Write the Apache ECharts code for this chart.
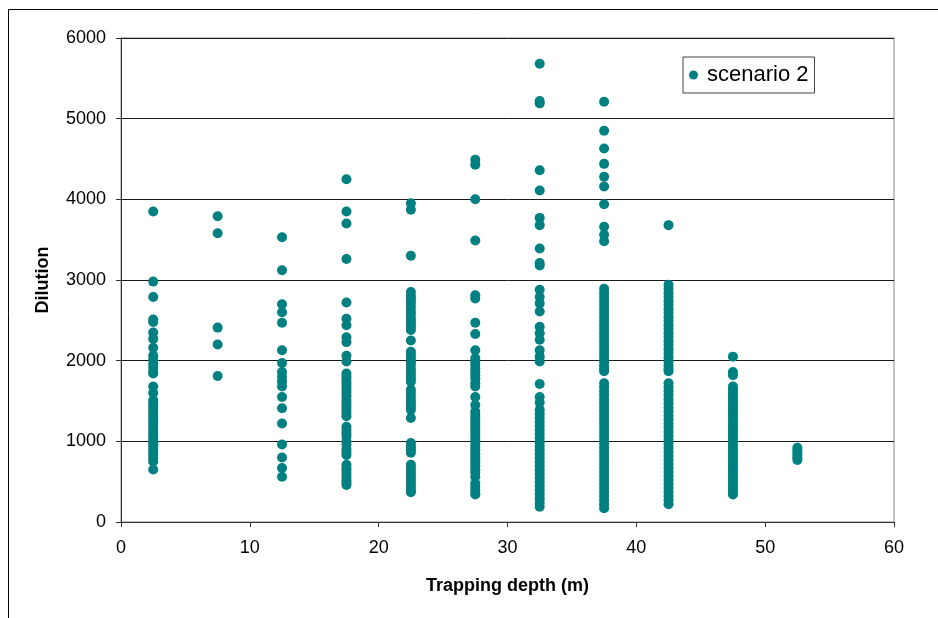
<!DOCTYPE html>
<html>
<head>
<meta charset="utf-8">
<script src="https://cdn.jsdelivr.net/npm/echarts@6/dist/echarts.min.js"></script>
<style>
  html, body { margin: 0; padding: 0; background: #fff; }
  #chart { width: 938px; height: 618px; }
</style>
</head>
<body>
<div id="chart"></div>
<script>
// Trapping depth bins (m)
const depths = [2.5, 7.5, 12.5, 17.5, 22.5, 27.5, 32.5, 37.5, 42.5, 47.5, 52.5];

// Dilution values observed at each trapping depth
const dil2_5 = [3850, 2980, 2790, 2510, 2480, 2350, 2270, 2160, 2060, 2010, 1960, 1910, 1860, 1840, 1680, 1600,
  1510, 1470, 1430, 1390, 1350, 1310, 1270, 1230, 1190, 1150, 1110, 1070, 1030, 990, 950, 910, 870, 830, 790, 750, 650];
const dil7_5 = [3790, 3580, 2410, 2200, 1810];
const dil12_5 = [3530, 3120, 2700, 2600, 2470, 2130, 1970, 1860, 1800, 1740, 1680, 1550, 1410, 1220, 960, 800, 670, 560];
const dil17_5 = [4250, 3850, 3700, 3260, 2720, 2520, 2440, 2290, 2230, 2060, 1990, 1840, 1800, 1760, 1720, 1680,
  1640, 1600, 1560, 1510, 1470, 1430, 1390, 1350, 1310, 1180, 1140, 1100, 1060, 1000, 960, 900, 860, 830,
  710, 670, 640, 600, 560, 520, 490, 460];
const dil22_5 = [3950, 3870, 3300, 2850, 2800, 2760, 2720, 2670, 2620, 2580, 2530, 2490, 2460, 2420, 2380, 2250,
  2110, 2070, 2030, 1990, 1950, 1900, 1860, 1820, 1780, 1740, 1640, 1600, 1550, 1510, 1470, 1430, 1390, 1290,
  980, 940, 900, 860, 710, 670, 630, 590, 550, 510, 470, 430, 390, 370];
const dil27_5 = [4490, 4430, 4000, 3490, 2810, 2770, 2470, 2330, 2130, 2030, 1990, 1950, 1900, 1860, 1820, 1780,
  1720, 1680, 1550, 1450, 1370, 1330, 1290, 1250, 1210, 1170, 1130, 1090, 1050, 1010, 970, 930, 890, 850, 810,
  770, 730, 690, 650, 610, 560, 480, 440, 400, 360, 340];
const dil32_5 = [5680, 5220, 5190, 4360, 4110, 3770, 3680, 3390, 3210, 3180, 2880, 2790, 2710, 2610, 2420, 2340,
  2260, 2130, 2050, 1990, 1710, 1550, 1480, 1390, 1340, 1290, 1240, 1190, 1140, 1090, 1040, 990, 940, 890, 840,
  790, 740, 690, 640, 590, 540, 490, 440, 390, 340, 290, 240, 190];
const dil37_5 = [5210, 4850, 4630, 4440, 4280, 4160, 3940, 3660, 3560, 3480, 2890, 2840, 2790, 2740, 2690, 2640,
  2590, 2540, 2490, 2440, 2390, 2340, 2290, 2240, 2190, 2140, 2090, 2040, 1990, 1940, 1900, 1870, 1720, 1670,
  1620, 1570, 1520, 1470, 1420, 1370, 1320, 1270, 1220, 1170, 1120, 1070, 1020, 970, 920, 870, 820, 770, 720,
  670, 620, 570, 520, 470, 420, 370, 320, 270, 220, 170];
const dil42_5 = [3680, 2940, 2890, 2840, 2790, 2740, 2690, 2640, 2590, 2540, 2490, 2440, 2390, 2340, 2290, 2240,
  2190, 2140, 2090, 2040, 1990, 1940, 1900, 1870, 1720, 1670, 1620, 1570, 1520, 1470, 1420, 1370, 1320, 1270,
  1220, 1170, 1120, 1070, 1020, 970, 920, 870, 820, 770, 720, 670, 620, 570, 520, 470, 420, 370, 320, 270, 220];
const dil47_5 = [2050, 1860, 1820, 1680, 1640, 1600, 1560, 1520, 1480, 1440, 1400, 1360, 1320, 1280, 1240, 1200,
  1160, 1120, 1080, 1040, 1000, 960, 920, 880, 840, 800, 760, 720, 680, 640, 600, 560, 520, 480, 440, 400, 360, 340];
const dil52_5 = [920, 890, 860, 830, 800, 770];

const dilutionByDepth = [dil2_5, dil7_5, dil12_5, dil17_5, dil22_5, dil27_5, dil32_5, dil37_5, dil42_5, dil47_5, dil52_5];

// Axis ticks
const xTicks = [0, 10, 20, 30, 40, 50, 60];
const yTicks = [0, 1000, 2000, 3000, 4000, 5000, 6000];

const points = [];
depths.forEach((d, i) => dilutionByDepth[i].forEach(v => points.push([d, v])));

const font = 'Liberation Sans, Arial, sans-serif';
const chart = echarts.init(document.getElementById('chart'));
chart.setOption({
  animation: false,
  backgroundColor: '#fff',
  textStyle: { fontFamily: font },
  grid: {
    left: 121, right: 44, top: 38, bottom: 96,
    show: true, borderColor: '#888', borderWidth: 1, backgroundColor: 'transparent'
  },
  legend: {
    left: 683, top: 57,
    padding: [7, 6, 7, 6],
    borderColor: '#444', borderWidth: 1,
    icon: 'circle', itemWidth: 17, itemHeight: 9, itemGap: 4,
    textStyle: { fontSize: 22, color: '#000', fontFamily: font },
    data: ['scenario 2']
  },
  xAxis: {
    type: 'value',
    min: xTicks[0], max: xTicks[xTicks.length - 1], interval: 10,
    name: 'Trapping depth (m)', nameLocation: 'middle', nameGap: 55,
    nameTextStyle: { fontSize: 18, fontWeight: 'bold', color: '#000', fontFamily: font },
    axisLine: { lineStyle: { color: '#333', width: 1 } },
    axisTick: { show: true, length: 5, lineStyle: { color: '#333' } },
    axisLabel: { fontSize: 18, color: '#000', margin: 17, fontFamily: font },
    splitLine: { show: false }
  },
  yAxis: {
    type: 'value',
    min: yTicks[0], max: yTicks[yTicks.length - 1], interval: 1000,
    name: 'Dilution', nameLocation: 'middle', nameGap: 69,
    nameTextStyle: { fontSize: 18, fontWeight: 'bold', color: '#000', fontFamily: font },
    axisLine: { show: true, lineStyle: { color: '#333', width: 1 } },
    axisTick: { show: true, length: 5, lineStyle: { color: '#333' } },
    axisLabel: { fontSize: 18, color: '#000', margin: 15, fontFamily: font, formatter: v => String(v) },
    splitLine: { show: true, lineStyle: { color: '#1a1a1a', width: 1 } }
  },
  series: [{
    name: 'scenario 2',
    type: 'scatter',
    symbol: 'circle',
    symbolSize: 10,
    itemStyle: { color: '#008080', opacity: 1 },
    data: points
  }],
  graphic: [
    { type: 'line', shape: { x1: 8.5, y1: 9.5, x2: 8.5, y2: 618 }, style: { stroke: '#000', lineWidth: 1 } },
    { type: 'line', shape: { x1: 8.5, y1: 9.5, x2: 938, y2: 9.5 }, style: { stroke: '#000', lineWidth: 1 } }
  ]
});
</script>
</body>
</html>
